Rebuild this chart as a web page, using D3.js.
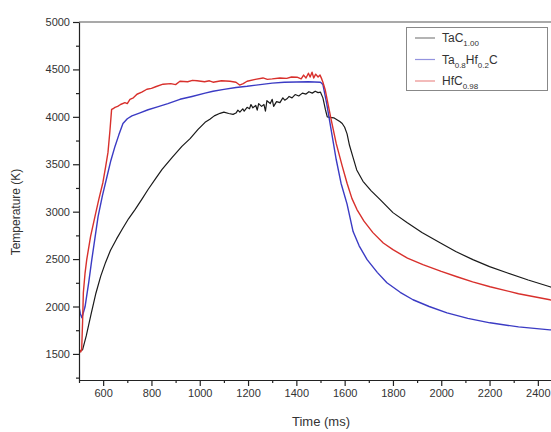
<!DOCTYPE html>
<html>
<head>
<meta charset="utf-8">
<script src="https://cdn.jsdelivr.net/npm/d3@7"></script>
<style>
    body { margin: 0; background: #fff; overflow: hidden; }
    svg { display: block; font-family: "Liberation Sans", Arial, sans-serif; }
</style>
</head>
<body>
<svg width="551" height="432"></svg>
<script>
// time (ms), temperature (K)
const tacData = [
    [505,1530],[515,1545],[530,1690],[550,1920],[570,2140],[590,2320],[610,2465],[630,2590],
    [655,2710],[680,2820],[705,2925],[732,3022],[760,3130],[786,3234],[815,3340],[844,3445],
    [885,3570],[926,3688],[960,3770],[993,3868],[1022,3942],[1042,3974],[1060,4010],[1084,4037],
    [1100,4050],[1120,4035],[1138,4026],[1150,4040],[1158,4070],[1166,4050],[1178,4085],[1184,4060],
    [1196,4100],[1206,4085],[1212,4130],[1220,4095],[1232,4120],[1238,4070],[1244,4140],[1256,4110],
    [1266,4130],[1272,4060],[1278,4170],[1292,4140],[1300,4185],[1306,4110],[1318,4160],[1332,4150],
    [1344,4200],[1352,4175],[1361,4190],[1370,4215],[1382,4200],[1395,4235],[1410,4220],[1425,4250],
    [1440,4240],[1452,4265],[1466,4250],[1478,4270],[1490,4255],[1500,4260],[1510,4200],[1520,4080],
    [1528,4000],[1540,3995],[1555,3990],[1568,3970],[1580,3950],[1590,3930],[1600,3890],[1610,3820],
    [1620,3700],[1635,3570],[1650,3440],[1676,3320],[1710,3220],[1746,3129],[1800,2990],[1858,2885],
    [1920,2780],[1995,2673],[2060,2580],[2131,2494],[2200,2420],[2272,2356],[2360,2280],[2450,2208],
    [2500,2170]
]

const taHfData = [
    [500,2000],[505,1930],[512,1880],[525,1997],[540,2250],[553,2494],[566,2720],[579,2948],
    [597,3170],[616,3371],[632,3540],[649,3688],[665,3810],[682,3930],[700,3980],[719,4010],
    [750,4040],[786,4075],[825,4105],[868,4140],[918,4185],[968,4215],[1022,4250],[1055,4270],
    [1100,4290],[1150,4310],[1196,4322],[1250,4340],[1300,4355],[1350,4365],[1400,4368],[1450,4370],
    [1500,4365],[1510,4340],[1525,4150],[1545,3850],[1565,3550],[1585,3300],[1610,3080],[1635,2790],
    [1660,2640],[1693,2494],[1735,2360],[1775,2251],[1830,2150],[1883,2071],[1950,2000],[2024,1933],
    [2110,1875],[2202,1828],[2320,1785],[2450,1754],[2500,1745]
]

const hfcData = [
    [500,1560],[507,1520],[511,1542],[515,1850],[518,2145],[525,2350],[532,2494],[548,2740],
    [566,2948],[582,3130],[599,3308],[610,3470],[620,3625],[628,3850],[635,4079],[641,4085],
    [649,4100],[660,4110],[672,4130],[690,4150],[700,4140],[711,4185],[725,4200],[740,4238],
    [760,4260],[781,4291],[800,4300],[820,4320],[848,4344],[880,4350],[900,4340],[918,4375],
    [950,4370],[970,4385],[989,4380],[1020,4370],[1040,4380],[1055,4365],[1090,4380],[1125,4375],
    [1150,4365],[1165,4335],[1180,4350],[1196,4375],[1230,4395],[1262,4410],[1280,4395],[1300,4400],
    [1332,4410],[1360,4405],[1380,4420],[1403,4418],[1420,4400],[1430,4440],[1440,4410],[1450,4460],
    [1457,4420],[1465,4470],[1472,4410],[1480,4450],[1490,4420],[1498,4440],[1505,4400],[1510,4365],
    [1520,4280],[1530,4150],[1545,3960],[1565,3720],[1590,3480],[1610,3300],[1630,3140],[1651,3022],
    [1680,2900],[1717,2779],[1760,2670],[1800,2599],[1860,2510],[1924,2441],[2000,2370],[2065,2314],
    [2130,2260],[2202,2208],[2320,2135],[2450,2071],[2500,2050]
]

const seriesNames = [
    [["TaC", 0], ["1.00", 1]],
    [["Ta", 0], ["0.8", 1], ["Hf", 0], ["0.2", 1], ["C", 0]],
    [["HfC", 0], ["0.98", 1]]
]
const seriesColors = ["#1a1a1a", "#3b3bc4", "#d8302c"]

const xTicks = [600, 800, 1000, 1200, 1400, 1600, 1800, 2000, 2200, 2400]
const yTicks = [1500, 2000, 2500, 3000, 3500, 4000, 4500, 5000]

const svg = d3.select("svg")
const plotLeft = 79, plotTop = 22, plotRight = 562, plotBottom = 380

const x = d3.scaleLinear().domain([500, 2500]).range([plotLeft, plotRight])
const y = d3.scaleLinear().domain([1225, 5000]).range([plotBottom, plotTop])

svg.append("clipPath")
    .attr("id", "plot")
    .append("rect")
    .attr("x", plotLeft)
    .attr("y", plotTop)
    .attr("width", plotRight - plotLeft)
    .attr("height", plotBottom - plotTop)

// top frame
svg.append("line")
    .attr("x1", plotLeft).attr("x2", plotRight)
    .attr("y1", plotTop).attr("y2", plotTop)
    .style("stroke", "#555")
    .style("stroke-width", 1.2)

const line = d3.line()
    .x(d => x(d[0]))
    .y(d => y(d[1]))

svg.append("g")
    .attr("clip-path", "url(#plot)")
    .selectAll("path")
    .data([tacData, taHfData, hfcData])
    .enter()
    .append("path")
    .attr("d", line)
    .style("fill", "none")
    .style("stroke", (d, i) => seriesColors[i])
    .style("stroke-width", (d, i) => i == 0 ? 1.2 : 1.4)
    .style("stroke-linejoin", "round")

// axes with minor ticks
const xMinor = d3.range(500, 2501, 100).filter(v => !xTicks.includes(v))
const yMinor = d3.range(1250, 5001, 250).filter(v => !yTicks.includes(v))

const xAxis = svg.append("g")
    .attr("transform", `translate(0, ${plotBottom})`)
    .call(d3.axisBottom(x).tickValues(xTicks).tickFormat(d3.format("d")).tickSize(6).tickPadding(3).tickSizeOuter(0))
xAxis.append("g")
    .call(d3.axisBottom(x).tickValues(xMinor).tickSize(3).tickFormat("").tickSizeOuter(0))
    .select(".domain").remove()

const yAxis = svg.append("g")
    .attr("transform", `translate(${plotLeft}, 0)`)
    .call(d3.axisLeft(y).tickValues(yTicks).tickFormat(d3.format("d")).tickSize(6).tickPadding(3).tickSizeOuter(0))
yAxis.append("g")
    .call(d3.axisLeft(y).tickValues(yMinor).tickSize(3).tickFormat("").tickSizeOuter(0))
    .select(".domain").remove()

svg.selectAll(".domain, .tick line")
    .style("stroke", "#222")
    .style("stroke-width", 1.2)
svg.selectAll(".tick text")
    .style("font-size", "11px")
    .style("fill", "#333")
    .style("font-family", "Liberation Sans, Arial, sans-serif")

svg.append("text")
    .attr("x", 321)
    .attr("y", 426)
    .attr("text-anchor", "middle")
    .style("font-size", "13px")
    .style("fill", "#333")
    .text("Time (ms)")

svg.append("text")
    .attr("transform", "translate(20, 212) rotate(-90)")
    .attr("text-anchor", "middle")
    .style("font-size", "12px")
    .style("fill", "#333")
    .text("Temperature (K)")

// legend
const legend = svg.append("g")
legend.append("rect")
    .attr("x", 406.5)
    .attr("y", 27.5)
    .attr("width", 141)
    .attr("height", 63)
    .style("fill", "#fff")
    .style("stroke", "#888")

const rows = legend.selectAll("g.row")
    .data(seriesNames)
    .enter()
    .append("g")
    .attr("class", "row")
    .attr("transform", (d, i) => `translate(0, ${38 + i * 21.5})`)

rows.append("line")
    .attr("x1", 415).attr("x2", 435)
    .style("stroke", (d, i) => seriesColors[i])
    .style("stroke-opacity", 0.55)
    .style("stroke-width", 1.2)

rows.append("text")
    .attr("x", 442)
    .attr("y", 4)
    .style("font-size", "12px")
    .style("fill", "#333")
    .selectAll("tspan")
    .data(d => d)
    .enter()
    .append("tspan")
    .attr("dy", (d, i, nodes) => {
        const prev = i > 0 ? d3.select(nodes[i - 1]).datum()[1] : 0
        return (d[1] - prev) * 4
    })
    .style("font-size", d => d[1] ? "8px" : "12px")
    .text(d => d[0])
</script>
</body>
</html>
